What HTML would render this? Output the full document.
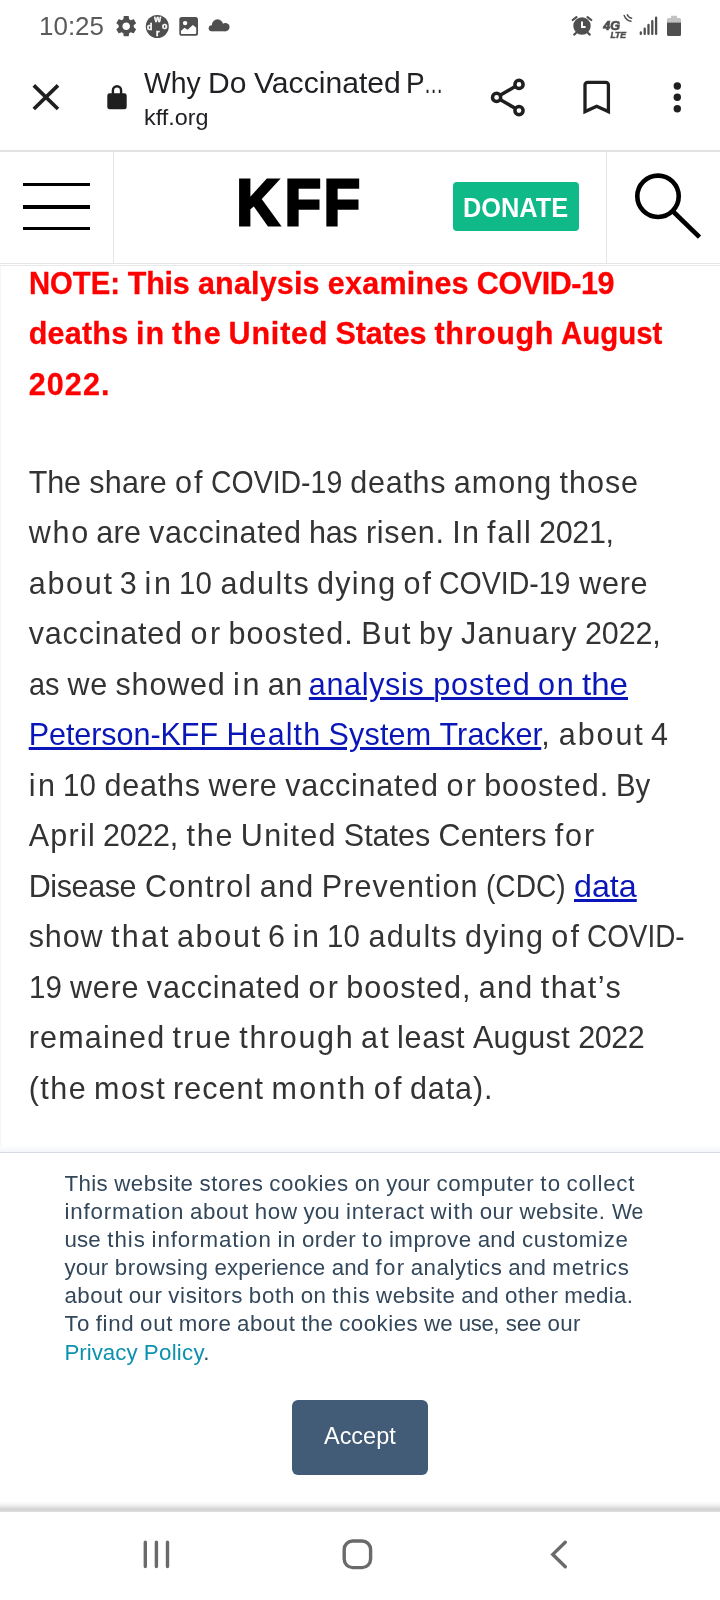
<!DOCTYPE html>
<html lang="en">
<head>
<meta charset="utf-8">
<title>Why Do Vaccinated People Represent Most COVID-19 Deaths Right Now? | KFF</title>
<style>
html,body{margin:0;padding:0;background:#fff;}
body{width:720px;height:1600px;position:relative;overflow:hidden;font-family:"Liberation Sans",sans-serif;}
.abs{position:absolute;}
.ln{position:absolute;left:0;width:720px;height:1em;white-space:pre;line-height:1;}
.w{position:absolute;top:0;white-space:pre;transform-origin:0 0;}
/* status bar */
/* toolbar */
/* header */
#donate{left:453px;top:182px;width:126px;height:49px;border-radius:4px;background:#0fb988;color:#fff;font-weight:bold;font-size:28.2px;line-height:50.8px;white-space:nowrap;overflow:hidden;}
#donate span{display:inline-block;transform-origin:0 50%;transform:scaleX(0.9);margin-left:9.6px;letter-spacing:0px;}
/* article */
.ui-title,.ui-host{color:#202124;}
.ui-time{color:#5a5a5a;}
.ui-accept{color:#fff;}
.red{color:#f00;font-weight:bold;-webkit-text-stroke:0.3px #f00;}
.body{color:#333;}
a.lk{color:#0a16b8;text-decoration:underline;text-decoration-thickness:2.6px;text-underline-offset:2.2px;}
/* cookie */
.ck{color:#33475b;}
.ck a{color:#0c91ae;text-decoration:none;}
#accept{left:292px;top:1400px;width:136px;height:75px;border-radius:6px;background:#425b76;}
</style>
</head>
<body>
<div id="root" style="position:absolute;left:0;top:0;width:720px;height:1600px;will-change:transform;">

<!-- STATUS BAR -->
<svg class="abs" style="left:0;top:0" width="720" height="52" viewBox="0 0 720 52">
  <g id="statusicons" fill="#4f4f4f">
    <!-- gear -->
    <g transform="translate(113.6,13.6) scale(1.052)">
      <path d="M19.14,12.94c0.04-0.3,0.06-0.61,0.06-0.94c0-0.32-0.02-0.64-0.07-0.94l2.03-1.58c0.18-0.14,0.23-0.41,0.12-0.61l-1.92-3.32c-0.12-0.22-0.37-0.29-0.59-0.22l-2.39,0.96c-0.5-0.38-1.03-0.7-1.62-0.94L14.4,2.81c-0.04-0.24-0.24-0.41-0.48-0.41h-3.84c-0.24,0-0.43,0.17-0.47,0.41L9.25,5.35C8.66,5.59,8.12,5.92,7.63,6.29L5.24,5.33c-0.22-0.08-0.47,0-0.59,0.22L2.74,8.87C2.62,9.08,2.66,9.34,2.86,9.48l2.03,1.58C4.84,11.36,4.8,11.69,4.8,12s0.02,0.64,0.07,0.94l-2.03,1.58c-0.18,0.14-0.23,0.41-0.12,0.61l1.92,3.32c0.12,0.22,0.37,0.29,0.59,0.22l2.39-0.96c0.5,0.38,1.03,0.7,1.62,0.94l0.36,2.54c0.05,0.24,0.24,0.41,0.48,0.41h3.84c0.24,0,0.44-0.17,0.47-0.41l0.36-2.54c0.59-0.24,1.13-0.56,1.62-0.94l2.39,0.96c0.22,0.08,0.47,0,0.59-0.22l1.92-3.32c0.12-0.22,0.07-0.47-0.12-0.61L19.14,12.94z M12,15.6c-1.98,0-3.6-1.62-3.6-3.6s1.62-3.6,3.6-3.6s3.6,1.62,3.6,3.6S13.98,15.6,12,15.6z"/>
    </g>
    <!-- word game circle -->
    <circle cx="157.3" cy="26.5" r="11.5"/>
    <g fill="#fff" stroke="#fff" stroke-width="0.45" font-family="Liberation Sans, sans-serif" font-weight="bold" font-size="8.8" text-anchor="middle">
      <text x="157.6" y="21.8">w</text>
      <text x="149.8" y="30">d</text>
      <text x="164.8" y="28.8">o</text>
      <text x="157.8" y="35.8">r</text>
    </g>
    <!-- image icon -->
    <rect x="179.3" y="16.9" width="18.7" height="18.9" rx="2.6"/>
    <circle cx="185.1" cy="23.1" r="2.2" fill="#fff"/>
    <path d="M180.9 31 L184.4 27.8 L187.6 29.7 L192.9 24.9 L196.2 27.8 V33 a1 1 0 0 1 -1 1 H181.9 a1 1 0 0 1 -1 -1 Z" fill="#fff"/>
    <!-- cloud -->
    <circle cx="217.5" cy="24.9" r="5.6"/><circle cx="225.4" cy="27.1" r="4.2"/><circle cx="211.7" cy="28.3" r="3"/><rect x="211.7" y="26" width="13.7" height="5.3"/>
    <!-- alarm -->
    <circle cx="582" cy="26" r="8.7"/>
    <g stroke="#4f4f4f" stroke-width="2.2" stroke-linecap="round" fill="none">
      <path d="M572.7 20 L576.5 17.1 M587.5 17.1 L591.3 20 M574.2 34.6 L576 33 M588 33 L589.8 34.6"/>
    </g>
    <path d="M582 21.6 V27 H585.6" stroke="#fff" stroke-width="1.9" fill="none"/>
    <!-- 4G LTE -->
    <g font-family="Liberation Sans, sans-serif" font-weight="bold" font-style="italic">
      <text x="603.2" y="29.6" font-size="12.6" letter-spacing="0.1" stroke="#4f4f4f" stroke-width="0.7">4G</text>
      <text x="610.5" y="37.6" font-size="8.6" letter-spacing="0" stroke="#4f4f4f" stroke-width="0.5">LTE</text>
    </g>
    <g stroke="#4f4f4f" stroke-width="1.5" fill="none" stroke-linecap="round">
      <path d="M624.2 15.4 A9 9 0 0 0 631 21.2"/>
      <path d="M627.3 14.8 A5.6 5.6 0 0 0 631.6 18.2"/>
    </g>
    <!-- signal -->
    <g stroke="#4f4f4f" stroke-width="2.3" stroke-linecap="round">
      <path d="M640.8 32.4V33.9 M644.7 28.7V33.9 M648.5 25V33.9 M652.3 21.2V33.9 M656.1 17.7V33.9"/>
    </g>
    <!-- battery -->
    <path d="M671 15.8 H677 V18 H679.5 a1.5 1.5 0 0 1 1.5 1.5 V22.5 H667 V19.5 a1.5 1.5 0 0 1 1.5 -1.5 H671 Z" fill="#c2c2c2"/>
    <path d="M667 22.5 H681 V34.5 a1.5 1.5 0 0 1 -1.5 1.5 H668.5 a1.5 1.5 0 0 1 -1.5 -1.5 Z"/>
  </g>
</svg>

<!-- BROWSER TOOLBAR -->
<svg class="abs" style="left:0;top:52px" width="720" height="100" viewBox="0 52 720 100">
  <g id="toolbaricons" fill="none" stroke="#1f1f1f">
    <!-- close X -->
    <path d="M33.8 85.4 L58 109 M58 85.4 L33.8 109" stroke-width="3.7"/>
    <!-- lock -->
    <path d="M112.9 94.5 V90.3 a4.1 4.1 0 0 1 8.2 0 V94.5" stroke-width="2.4"/>
    <rect x="107.3" y="93.3" width="19.4" height="16" rx="2.4" fill="#1f1f1f" stroke="none"/>
    <!-- share -->
    <g stroke-width="3.5">
      <circle cx="519" cy="84.4" r="4.1"/>
      <circle cx="496.6" cy="97.4" r="4.1"/>
      <circle cx="519" cy="110.6" r="4.1"/>
      <path d="M500.5 95.1 L515.1 86.6 M500.5 99.7 L515.1 108.3"/>
    </g>
    <!-- bookmark -->
    <path d="M585 111.6 V84.9 a2.6 2.6 0 0 1 2.6 -2.6 H605.8 a2.6 2.6 0 0 1 2.6 2.6 V111.6 L596.7 106.2 Z" stroke-width="3.3" stroke-linejoin="miter"/>
    <!-- dots -->
    <g fill="#1f1f1f" stroke="none">
      <circle cx="677.3" cy="86" r="3.7"/>
      <circle cx="677.3" cy="97.3" r="3.7"/>
      <circle cx="677.3" cy="108.7" r="3.7"/>
    </g>
  </g>
</svg>
<div class="abs" style="left:0;top:150px;width:720px;height:2px;background:#e1e3e1"></div>

<!-- SITE HEADER -->
<div class="abs" style="left:23px;top:182.5px;width:67px;height:3px;background:#000"></div>
<div class="abs" style="left:23px;top:205px;width:67px;height:4px;background:#000"></div>
<div class="abs" style="left:23px;top:227px;width:67px;height:3px;background:#000"></div>
<div class="abs" style="left:113px;top:152px;width:1px;height:111px;background:#e6e6e6"></div>
<div class="abs" style="left:606px;top:152px;width:1px;height:111px;background:#e6e6e6"></div>
<svg class="abs" style="left:200px;top:160px" width="220" height="90" viewBox="200 160 220 90">
  <text transform="scale(0.92,1)" x="257.2 309.6 351.9" y="225.5" font-family="Liberation Sans, sans-serif" font-weight="bold" font-size="64.5" fill="#000" stroke="#000" stroke-width="3" stroke-linejoin="miter">KFF</text>
</svg>
<div id="donate" class="abs"><span>DONATE</span></div>
<svg class="abs" style="left:620px;top:160px" width="100" height="100" viewBox="620 160 100 100">
  <circle cx="658" cy="196.3" r="20.7" fill="none" stroke="#000" stroke-width="4.6"/>
  <path d="M672.6 211 L699.5 237.2" stroke="#000" stroke-width="4.6" fill="none"/>
</svg>
<div class="abs" style="left:0;top:263px;width:720px;height:1px;background:#e5e5e5"></div>
<div class="abs" style="left:0;top:265px;width:720px;height:1px;background:#e8e8e8"></div>
<div class="abs" style="left:0;top:266px;width:1px;height:880px;background:#f6f6f6"></div>

<!-- ARTICLE -->
<div id="article">
<div class="ln red" style="top:267.98px;font-size:30.5px"><span class="w" style="left:28.70px;letter-spacing:0.000px;word-spacing:0.15px;transform:scaleX(0.9580)">NOTE: </span><span class="w" style="left:127.86px;letter-spacing:-0.283px;word-spacing:0.35px">This </span><span class="w" style="left:197.97px;letter-spacing:0.159px;word-spacing:-0.53px">analysis </span><span class="w" style="left:327.75px;letter-spacing:0.255px;word-spacing:-0.72px">examines </span><span class="w" style="left:476.84px;letter-spacing:-0.432px;word-spacing:0.00px">COVID-19</span></div>
<div class="ln red" style="top:318.38px;font-size:30.5px"><span class="w" style="left:28.70px;letter-spacing:0.224px;word-spacing:-0.96px">deaths </span><span class="w" style="left:136.10px;letter-spacing:0.809px;word-spacing:-2.14px">in </span><span class="w" style="left:171.98px;letter-spacing:1.457px;word-spacing:-3.44px">the </span><span class="w" style="left:228.60px;letter-spacing:0.803px;word-spacing:-2.11px">United </span><span class="w" style="left:335.47px;letter-spacing:-0.091px;word-spacing:-0.34px">States </span><span class="w" style="left:434.52px;letter-spacing:0.621px;word-spacing:-1.75px">through </span><span class="w" style="left:561.40px;letter-spacing:0.000px;word-spacing:0.00px;transform:scaleX(0.9653)">August</span></div>
<div class="ln red" style="top:368.78px;font-size:30.5px"><span class="w" style="left:28.70px;letter-spacing:1.118px;word-spacing:0.00px">2022.</span></div>
<div class="ln body" style="top:466.88px;font-size:30.5px"><span class="w" style="left:28.70px;letter-spacing:-0.121px;word-spacing:0.06px">The </span><span class="w" style="left:89.31px;letter-spacing:0.270px;word-spacing:-0.73px">share </span><span class="w" style="left:174.98px;letter-spacing:2.129px;word-spacing:-4.45px">of </span><span class="w" style="left:210.83px;letter-spacing:0.000px;word-spacing:0.42px;transform:scaleX(0.9327)">COVID-19 </span><span class="w" style="left:350.34px;letter-spacing:0.729px;word-spacing:-1.65px">deaths </span><span class="w" style="left:453.85px;letter-spacing:1.035px;word-spacing:-2.25px">among </span><span class="w" style="left:559.55px;letter-spacing:0.981px;word-spacing:0.00px">those</span></div>
<div class="ln body" style="top:517.35px;font-size:30.5px"><span class="w" style="left:28.70px;letter-spacing:1.778px;word-spacing:-3.89px">who </span><span class="w" style="left:96.36px;letter-spacing:0.223px;word-spacing:-0.77px">are </span><span class="w" style="left:149.05px;letter-spacing:0.672px;word-spacing:-1.66px">vaccinated </span><span class="w" style="left:309.07px;letter-spacing:-0.246px;word-spacing:0.17px">has </span><span class="w" style="left:365.92px;letter-spacing:0.700px;word-spacing:-1.72px">risen. </span><span class="w" style="left:452.16px;letter-spacing:1.356px;word-spacing:-3.05px">In </span><span class="w" style="left:487.10px;letter-spacing:1.590px;word-spacing:-3.50px">fall </span><span class="w" style="left:539.02px;letter-spacing:-0.312px;word-spacing:0.00px">2021,</span></div>
<div class="ln body" style="top:567.82px;font-size:30.5px"><span class="w" style="left:28.70px;letter-spacing:1.740px;word-spacing:-3.62px">about </span><span class="w" style="left:119.81px;letter-spacing:0.000px;word-spacing:-0.12px">3 </span><span class="w" style="left:144.59px;letter-spacing:2.611px;word-spacing:-5.34px">in </span><span class="w" style="left:179.30px;letter-spacing:0.000px;word-spacing:0.17px;transform:scaleX(0.9660)">10 </span><span class="w" style="left:220.43px;letter-spacing:1.368px;word-spacing:-2.87px">adults </span><span class="w" style="left:317.01px;letter-spacing:1.295px;word-spacing:-2.71px">dying </span><span class="w" style="left:403.46px;letter-spacing:2.158px;word-spacing:-4.45px">of </span><span class="w" style="left:439.40px;letter-spacing:0.000px;word-spacing:0.47px;transform:scaleX(0.9341)">COVID-19 </span><span class="w" style="left:579.17px;letter-spacing:0.742px;word-spacing:0.00px">were</span></div>
<div class="ln body" style="top:618.29px;font-size:30.5px"><span class="w" style="left:28.70px;letter-spacing:0.838px;word-spacing:-1.66px">vaccinated </span><span class="w" style="left:190.55px;letter-spacing:2.366px;word-spacing:-4.72px">or </span><span class="w" style="left:228.52px;letter-spacing:1.044px;word-spacing:-2.09px">boosted. </span><span class="w" style="left:361.33px;letter-spacing:1.671px;word-spacing:-3.34px">But </span><span class="w" style="left:418.94px;letter-spacing:1.350px;word-spacing:-2.69px">by </span><span class="w" style="left:460.99px;letter-spacing:1.178px;word-spacing:-2.34px">January </span><span class="w" style="left:585.06px;letter-spacing:-0.146px;word-spacing:0.00px">2022,</span></div>
<div class="ln body" style="top:668.76px;font-size:30.5px"><span class="w" style="left:28.70px;letter-spacing:0.000px;word-spacing:0.30px;transform:scaleX(0.9465)">as </span><span class="w" style="left:67.49px;letter-spacing:0.713px;word-spacing:-1.59px">we </span><span class="w" style="left:115.51px;letter-spacing:0.835px;word-spacing:-1.84px">showed </span><span class="w" style="left:233.12px;letter-spacing:2.588px;word-spacing:-5.34px">in </span><span class="w" style="left:267.76px;letter-spacing:0.650px;word-spacing:-3.27px">an </span><span class="w" style="left:308.85px;letter-spacing:0.656px;word-spacing:1.02px"><a class="lk">analysis </a></span><span class="w" style="left:433.14px;letter-spacing:0.994px;word-spacing:-0.87px"><a class="lk">posted </a></span><span class="w" style="left:537.99px;letter-spacing:1.869px;word-spacing:-2.61px"><a class="lk">on </a></span><span class="w" style="left:582.10px;letter-spacing:0.000px;word-spacing:0.00px;transform:scaleX(1.0848)"><a class="lk">the</a></span></div>
<div class="ln body" style="top:719.23px;font-size:30.5px"><span class="w" style="left:28.70px;letter-spacing:-0.045px;word-spacing:1.30px"><a class="lk">Peterson-KFF </a></span><span class="w" style="left:226.43px;letter-spacing:1.114px;word-spacing:-1.02px"><a class="lk">Health </a></span><span class="w" style="left:328.55px;letter-spacing:0.168px;word-spacing:0.86px"><a class="lk">System </a></span><span class="w" style="left:439.46px;letter-spacing:0.171px;word-spacing:0.35px"><a class="lk">Tracker</a>, </span><span class="w" style="left:558.86px;letter-spacing:1.881px;word-spacing:-3.37px">about </span><span class="w" style="left:651.06px;letter-spacing:0.000px;word-spacing:0.00px">4</span></div>
<div class="ln body" style="top:769.70px;font-size:30.5px"><span class="w" style="left:28.70px;letter-spacing:2.623px;word-spacing:-5.34px">in </span><span class="w" style="left:63.44px;letter-spacing:0.000px;word-spacing:0.19px;transform:scaleX(0.9663)">10 </span><span class="w" style="left:104.61px;letter-spacing:0.769px;word-spacing:-1.65px">deaths </span><span class="w" style="left:208.40px;letter-spacing:0.753px;word-spacing:-1.62px">were </span><span class="w" style="left:285.14px;letter-spacing:0.782px;word-spacing:-1.66px">vaccinated </span><span class="w" style="left:446.38px;letter-spacing:2.310px;word-spacing:-4.72px">or </span><span class="w" style="left:484.18px;letter-spacing:0.989px;word-spacing:-2.09px">boosted. </span><span class="w" style="left:616.49px;letter-spacing:0.000px;word-spacing:0.00px;transform:scaleX(0.9639)">By</span></div>
<div class="ln body" style="top:820.17px;font-size:30.5px"><span class="w" style="left:28.70px;letter-spacing:1.250px;word-spacing:-2.71px">April </span><span class="w" style="left:102.99px;letter-spacing:-0.250px;word-spacing:0.29px">2022, </span><span class="w" style="left:186.59px;letter-spacing:1.785px;word-spacing:-3.77px">the </span><span class="w" style="left:240.84px;letter-spacing:1.305px;word-spacing:-2.81px">United </span><span class="w" style="left:343.81px;letter-spacing:0.005px;word-spacing:-0.22px">States </span><span class="w" style="left:438.58px;letter-spacing:0.183px;word-spacing:-0.58px">Centers </span><span class="w" style="left:554.75px;letter-spacing:1.879px;word-spacing:0.00px">for</span></div>
<div class="ln body" style="top:870.64px;font-size:30.5px"><span class="w" style="left:28.70px;letter-spacing:-0.384px;word-spacing:0.73px">Disease </span><span class="w" style="left:145.04px;letter-spacing:1.332px;word-spacing:-2.70px">Control </span><span class="w" style="left:259.79px;letter-spacing:1.272px;word-spacing:-2.59px">and </span><span class="w" style="left:321.66px;letter-spacing:1.110px;word-spacing:-2.25px">Prevention </span><span class="w" style="left:485.92px;letter-spacing:0.000px;word-spacing:0.68px;transform:scaleX(0.9222)">(CDC) </span><span class="w" style="left:574.04px;letter-spacing:0.000px;word-spacing:0.00px;transform:scaleX(1.0571)"><a class="lk">data</a></span></div>
<div class="ln body" style="top:921.11px;font-size:30.5px"><span class="w" style="left:28.70px;letter-spacing:0.911px;word-spacing:-1.98px">show </span><span class="w" style="left:110.96px;letter-spacing:2.244px;word-spacing:-4.65px">that </span><span class="w" style="left:176.89px;letter-spacing:1.727px;word-spacing:-3.62px">about </span><span class="w" style="left:267.92px;letter-spacing:0.000px;word-spacing:-0.15px">6 </span><span class="w" style="left:292.67px;letter-spacing:2.598px;word-spacing:-5.34px">in </span><span class="w" style="left:327.34px;letter-spacing:0.000px;word-spacing:0.15px;transform:scaleX(0.9656)">10 </span><span class="w" style="left:368.44px;letter-spacing:1.355px;word-spacing:-2.87px">adults </span><span class="w" style="left:464.92px;letter-spacing:1.282px;word-spacing:-2.71px">dying </span><span class="w" style="left:551.29px;letter-spacing:2.145px;word-spacing:-4.45px">of </span><span class="w" style="left:587.20px;letter-spacing:0.000px;word-spacing:0.00px;transform:scaleX(0.9143)">COVID-</span></div>
<div class="ln body" style="top:971.58px;font-size:30.5px"><span class="w" style="left:28.70px;letter-spacing:0.000px;word-spacing:0.24px;transform:scaleX(0.9672)">19 </span><span class="w" style="left:69.95px;letter-spacing:0.781px;word-spacing:-1.62px">were </span><span class="w" style="left:146.83px;letter-spacing:0.811px;word-spacing:-1.66px">vaccinated </span><span class="w" style="left:308.38px;letter-spacing:2.338px;word-spacing:-4.72px">or </span><span class="w" style="left:346.27px;letter-spacing:1.017px;word-spacing:-2.09px">boosted, </span><span class="w" style="left:478.83px;letter-spacing:1.268px;word-spacing:-2.59px">and </span><span class="w" style="left:540.69px;letter-spacing:1.551px;word-spacing:0.00px">that’s</span></div>
<div class="ln body" style="top:1022.05px;font-size:30.5px"><span class="w" style="left:28.70px;letter-spacing:1.184px;word-spacing:-2.41px">remained </span><span class="w" style="left:172.58px;letter-spacing:1.897px;word-spacing:-3.82px">true </span><span class="w" style="left:239.28px;letter-spacing:1.657px;word-spacing:-3.34px">through </span><span class="w" style="left:361.11px;letter-spacing:2.095px;word-spacing:-4.23px">at </span><span class="w" style="left:397.08px;letter-spacing:0.735px;word-spacing:-1.50px">least </span><span class="w" style="left:472.90px;letter-spacing:0.363px;word-spacing:-0.76px">August </span><span class="w" style="left:578.13px;letter-spacing:-0.395px;word-spacing:0.00px">2022</span></div>
<div class="ln body" style="top:1072.52px;font-size:30.5px"><span class="w" style="left:28.70px;letter-spacing:1.450px;word-spacing:-2.89px">(the </span><span class="w" style="left:94.10px;letter-spacing:1.471px;word-spacing:-2.94px">most </span><span class="w" style="left:173.08px;letter-spacing:1.035px;word-spacing:-2.06px">recent </span><span class="w" style="left:271.52px;letter-spacing:2.245px;word-spacing:-4.48px">month </span><span class="w" style="left:373.77px;letter-spacing:2.226px;word-spacing:-4.45px">of </span><span class="w" style="left:409.92px;letter-spacing:0.917px;word-spacing:0.00px">data).</span></div>
</div>

<!-- COOKIE BANNER -->
<div class="abs" style="left:0;top:1145px;width:720px;height:7px;background:linear-gradient(to bottom,rgba(232,236,246,0),rgba(232,236,246,0.5))"></div>
<div class="abs" style="left:0;top:1152px;width:720px;height:1px;background:#d6dae4"></div>
<div id="cookie">
<div class="ln ck" style="top:1172.62px;font-size:22.3px"><span class="w" style="left:64.40px;letter-spacing:0.407px;word-spacing:-0.62px">This </span><span class="w" style="left:114.14px;letter-spacing:0.550px;word-spacing:-0.89px">website </span><span class="w" style="left:199.45px;letter-spacing:0.551px;word-spacing:-0.91px">stores </span><span class="w" style="left:269.32px;letter-spacing:0.552px;word-spacing:-0.90px">cookies </span><span class="w" style="left:354.64px;letter-spacing:0.355px;word-spacing:-0.50px">on </span><span class="w" style="left:386.20px;letter-spacing:0.136px;word-spacing:-0.08px">your </span><span class="w" style="left:436.38px;letter-spacing:0.636px;word-spacing:-1.06px">computer </span><span class="w" style="left:540.18px;letter-spacing:1.386px;word-spacing:-2.56px">to </span><span class="w" style="left:566.58px;letter-spacing:0.787px;word-spacing:0.00px">collect</span></div>
<div class="ln ck" style="top:1200.79px;font-size:22.3px"><span class="w" style="left:64.40px;letter-spacing:0.865px;word-spacing:-1.39px">information </span><span class="w" style="left:189.89px;letter-spacing:0.632px;word-spacing:-0.94px">about </span><span class="w" style="left:254.75px;letter-spacing:0.679px;word-spacing:-1.03px">how </span><span class="w" style="left:303.54px;letter-spacing:0.023px;word-spacing:0.28px">you </span><span class="w" style="left:346.07px;letter-spacing:0.667px;word-spacing:-1.01px">interact </span><span class="w" style="left:430.39px;letter-spacing:1.046px;word-spacing:-1.77px">with </span><span class="w" style="left:479.71px;letter-spacing:0.484px;word-spacing:-0.62px">our </span><span class="w" style="left:519.45px;letter-spacing:0.548px;word-spacing:-0.77px">website. </span><span class="w" style="left:611.61px;letter-spacing:0.000px;word-spacing:0.00px;transform:scaleX(0.9499)">We</span></div>
<div class="ln ck" style="top:1228.96px;font-size:22.3px"><span class="w" style="left:64.40px;letter-spacing:0.162px;word-spacing:0.06px">use </span><span class="w" style="left:107.27px;letter-spacing:1.004px;word-spacing:-1.62px">this </span><span class="w" style="left:151.57px;letter-spacing:0.895px;word-spacing:-1.39px">information </span><span class="w" style="left:277.43px;letter-spacing:0.701px;word-spacing:-1.02px">in </span><span class="w" style="left:302.08px;letter-spacing:0.377px;word-spacing:-0.35px">order </span><span class="w" style="left:362.24px;letter-spacing:1.483px;word-spacing:-2.56px">to </span><span class="w" style="left:388.92px;letter-spacing:0.478px;word-spacing:-0.55px">improve </span><span class="w" style="left:477.69px;letter-spacing:0.225px;word-spacing:-0.06px">and </span><span class="w" style="left:521.94px;letter-spacing:0.711px;word-spacing:0.00px">customize</span></div>
<div class="ln ck" style="top:1257.13px;font-size:22.3px"><span class="w" style="left:64.40px;letter-spacing:0.159px;word-spacing:-0.08px">your </span><span class="w" style="left:114.69px;letter-spacing:0.581px;word-spacing:-0.92px">browsing </span><span class="w" style="left:214.43px;letter-spacing:0.188px;word-spacing:-0.12px">experience </span><span class="w" style="left:331.67px;letter-spacing:0.151px;word-spacing:-0.06px">and </span><span class="w" style="left:375.61px;letter-spacing:1.299px;word-spacing:-2.34px">for </span><span class="w" style="left:410.68px;letter-spacing:0.551px;word-spacing:-0.86px">analytics </span><span class="w" style="left:508.29px;letter-spacing:0.151px;word-spacing:-0.06px">and </span><span class="w" style="left:552.24px;letter-spacing:0.818px;word-spacing:0.00px">metrics</span></div>
<div class="ln ck" style="top:1285.30px;font-size:22.3px"><span class="w" style="left:64.40px;letter-spacing:0.554px;word-spacing:-0.94px">about </span><span class="w" style="left:128.79px;letter-spacing:0.406px;word-spacing:-0.62px">our </span><span class="w" style="left:168.21px;letter-spacing:0.694px;word-spacing:-1.22px">visitors </span><span class="w" style="left:248.81px;letter-spacing:0.724px;word-spacing:-1.26px">both </span><span class="w" style="left:300.76px;letter-spacing:0.343px;word-spacing:-0.50px">on </span><span class="w" style="left:332.29px;letter-spacing:0.895px;word-spacing:-1.62px">this </span><span class="w" style="left:376.06px;letter-spacing:0.539px;word-spacing:-0.89px">website </span><span class="w" style="left:461.27px;letter-spacing:0.117px;word-spacing:-0.06px">and </span><span class="w" style="left:505.08px;letter-spacing:0.492px;word-spacing:-0.81px">other </span><span class="w" style="left:564.25px;letter-spacing:0.362px;word-spacing:0.00px">media.</span></div>
<div class="ln ck" style="top:1313.47px;font-size:22.3px"><span class="w" style="left:64.40px;letter-spacing:1.462px;word-spacing:-2.84px">To </span><span class="w" style="left:95.69px;letter-spacing:0.665px;word-spacing:-1.27px">find </span><span class="w" style="left:139.90px;letter-spacing:0.837px;word-spacing:-1.61px">out </span><span class="w" style="left:178.84px;letter-spacing:0.383px;word-spacing:-0.69px">more </span><span class="w" style="left:237.07px;letter-spacing:0.501px;word-spacing:-0.94px">about </span><span class="w" style="left:301.14px;letter-spacing:0.391px;word-spacing:-0.72px">the </span><span class="w" style="left:339.19px;letter-spacing:0.488px;word-spacing:-0.90px">cookies </span><span class="w" style="left:423.99px;letter-spacing:0.087px;word-spacing:-0.09px">we </span><span class="w" style="left:458.86px;letter-spacing:-0.492px;word-spacing:1.06px">use, </span><span class="w" style="left:505.81px;letter-spacing:-0.234px;word-spacing:0.53px">see </span><span class="w" style="left:547.56px;letter-spacing:0.352px;word-spacing:0.00px">our</span></div>
<div class="ln ck" style="top:1341.64px;font-size:22.3px"><span class="w" style="left:64.40px;letter-spacing:0.018px;word-spacing:-0.04px"><a>Privacy </a></span><span class="w" style="left:143.80px;letter-spacing:0.278px;word-spacing:0.00px"><a>Policy</a>.</span></div>
</div>
<div id="accept" class="abs"></div>
<div id="ui">
<div class="ln ui-title" style="top:68.35px;font-size:30.3px"><span class="w" style="left:143.80px;letter-spacing:0.000px;word-spacing:-0.94px;transform:scaleX(0.9371)">Why </span><span class="w" style="left:207.60px;letter-spacing:0.000px;word-spacing:-0.76px;transform:scaleX(0.9914)">Do </span><span class="w" style="left:253.60px;letter-spacing:0.000px;word-spacing:-2.79px;transform:scaleX(0.9942)">Vaccinated </span><span class="w" style="left:406.00px;letter-spacing:0.000px;word-spacing:-8.08px;transform:scaleX(0.9199)">P</span><span class="w" style="left:424.40px;letter-spacing:0.000px;word-spacing:0.00px;transform:scaleX(0.6337)">…</span></div>
<div class="ln ui-host" style="top:105.60px;font-size:22.8px"><span class="w" style="left:143.60px;letter-spacing:0.000px;word-spacing:0.00px;transform:scaleX(1.0233)">kff.org</span></div>
<div class="ln ui-time" style="top:12.58px;font-size:26.6px"><span class="w" style="left:39.20px;letter-spacing:0.000px;word-spacing:0.00px;transform:scaleX(0.9765)">10:25</span></div>
<div class="ln ui-accept" style="top:1425.49px;font-size:23.4px"><span class="w" style="left:323.60px;letter-spacing:0.000px;word-spacing:0.00px;transform:scaleX(1.0028)">Accept</span></div>
</div>

<!-- NAV BAR -->
<div class="abs" style="left:0;top:1501px;width:720px;height:11px;background:linear-gradient(to bottom,#ffffff 0%,#f7f7f7 27%,#ebebeb 45%,#dcdcdc 64%,#d3d3d3 77%,#e0e0e0 100%)"></div>
<svg class="abs" style="left:0;top:1512px" width="720" height="88" viewBox="0 1512 720 88">
  <g fill="none" stroke="#6a6a6a" stroke-width="3.4" stroke-linecap="round">
    <path d="M145.3 1542.3V1566.5M156.4 1542.3V1566.5M167.5 1542.3V1566.5"/>
    <rect x="344.2" y="1541" width="26.4" height="26.6" rx="8.5" ry="8.5"/>
    <path d="M565.3 1542.2 L552.8 1554.4 L565.3 1566.7" stroke-linejoin="miter"/>
  </g>
</svg>

</div>
</body>
</html>
